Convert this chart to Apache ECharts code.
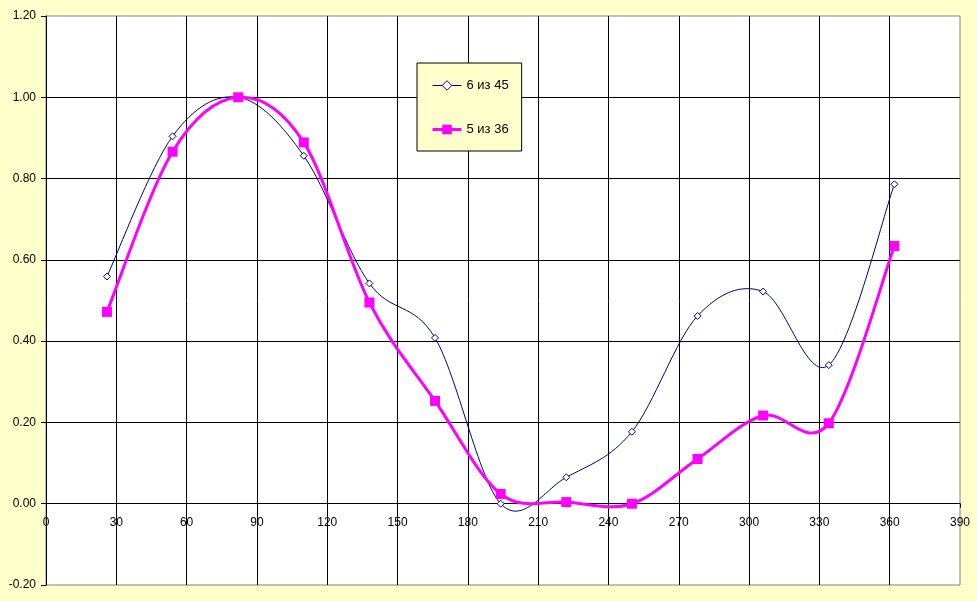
<!DOCTYPE html>
<html>
<head>
<meta charset="utf-8">
<script src="https://cdn.jsdelivr.net/npm/echarts@6/dist/echarts.min.js"></script>
<style>
html,body{margin:0;padding:0;background:#FFFFCC;}
#c{width:977px;height:601px;}
</style>
</head>
<body>
<div id="c"></div>
<script>
var xValues = [26, 54, 82, 110, 138, 166, 194, 222, 250, 278, 306, 334, 362];
var series645 = [0.559, 0.904, 1.00, 0.856, 0.542, 0.408, 0.00, 0.065, 0.177, 0.462, 0.522, 0.341, 0.786];
var series536 = [0.472, 0.866, 1.00, 0.889, 0.495, 0.253, 0.024, 0.004, 0.000, 0.110, 0.217, 0.198, 0.634];
var seriesNames = ['6 из 45', '5 из 36'];
var xTickMin = 0, xTickMax = 390, xTickStep = 30;
var yTickMin = -0.2, yTickMax = 1.2, yTickStep = 0.2;

function pairs(xs, ys) { return xs.map(function (x, i) { return [x, ys[i]]; }); }

// Excel-style smoothed curve: cubic Bezier segments (Catmull-Rom, tension 1/6)
// built from the data converted to pixels by the chart's own axes.
function smoothCurve(ys, color, width, z) {
  return {
    type: 'custom',
    silent: true,
    z: z,
    data: pairs(xValues, ys),
    renderItem: function (params, api) {
      var i = params.dataIndex, n = xValues.length;
      if (i >= n - 1) return null;
      function P(j) {
        j = Math.max(0, Math.min(n - 1, j));
        return api.coord([xValues[j], ys[j]]);
      }
      var p0 = P(i - 1), p1 = P(i), p2 = P(i + 1), p3 = P(i + 2);
      return {
        type: 'bezierCurve',
        shape: {
          x1: p1[0], y1: p1[1], x2: p2[0], y2: p2[1],
          cpx1: p1[0] + (p2[0] - p0[0]) / 6, cpy1: p1[1] + (p2[1] - p0[1]) / 6,
          cpx2: p2[0] - (p3[0] - p1[0]) / 6, cpy2: p2[1] - (p3[1] - p1[1]) / 6
        },
        style: {stroke: color, lineWidth: width, fill: null}
      };
    }
  };
}

var font = 'Liberation Sans, Arial, sans-serif';
var chart = echarts.init(document.getElementById('c'), null, {renderer: 'canvas'});
var yZeroOffset = -(0 - yTickMin) / (yTickMax - yTickMin) * (601 - 16 - 16);
chart.setOption({
  animation: false,
  backgroundColor: '#FFFFCC',
  grid: {
    left: 46, right: 17, top: 16, bottom: 16,
    show: true, backgroundColor: '#FFFFFF', borderColor: '#808080', borderWidth: 1
  },
  legend: {
    left: 417, top: 63, orient: 'vertical',
    backgroundColor: '#FFFFCC', borderColor: '#000000', borderWidth: 1,
    padding: [16, 13, 15, 14],
    itemGap: 31, itemWidth: 29, itemHeight: 12,
    textStyle: {fontFamily: font, fontSize: 13, color: '#000000'},
    data: [
      {name: seriesNames[0], lineStyle: {color: '#000080', width: 1, opacity: 1},
       itemStyle: {color: '#FFFFFF', borderColor: '#000080', borderWidth: 1}},
      {name: seriesNames[1], lineStyle: {color: '#FF00FF', width: 3, opacity: 1}}
    ]
  },
  xAxis: {
    type: 'value', min: xTickMin, max: xTickMax, interval: xTickStep,
    offset: yZeroOffset,
    axisLine: {onZero: false, lineStyle: {color: '#000000', width: 1}},
    axisTick: {show: true, length: 4, inside: false, lineStyle: {color: '#000000'}},
    axisLabel: {fontFamily: font, fontSize: 12, color: '#000000', margin: 13},
    splitLine: {show: true, showMaxLine: false, lineStyle: {color: '#000000', width: 1}}
  },
  yAxis: {
    type: 'value', min: yTickMin, max: yTickMax, interval: yTickStep,
    axisLine: {show: true, lineStyle: {color: '#000000', width: 1}},
    axisTick: {show: true, length: 5, inside: false, lineStyle: {color: '#000000'}},
    axisLabel: {fontFamily: font, fontSize: 12, color: '#000000', margin: 10,
      formatter: function (v) { return v.toFixed(2); }},
    splitLine: {show: true, showMinLine: false, showMaxLine: false, lineStyle: {color: '#000000', width: 1}}
  },
  series: [
    smoothCurve(series645, '#000080', 1, 3),
    smoothCurve(series536, '#FF00FF', 3, 5),
    {
      name: seriesNames[0], type: 'line',
      data: pairs(xValues, series645),
      symbol: 'diamond', symbolSize: 7,
      lineStyle: {color: '#000080', width: 1, opacity: 0},
      itemStyle: {color: '#FFFFFF', borderColor: '#000080', borderWidth: 1},
      z: 4
    },
    {
      name: seriesNames[1], type: 'line',
      data: pairs(xValues, series536),
      symbol: 'rect', symbolSize: 10,
      lineStyle: {color: '#FF00FF', width: 3, opacity: 0},
      itemStyle: {color: '#FF00FF', borderColor: '#FF00FF', borderWidth: 0},
      z: 6
    }
  ]
});
</script>
</body>
</html>
